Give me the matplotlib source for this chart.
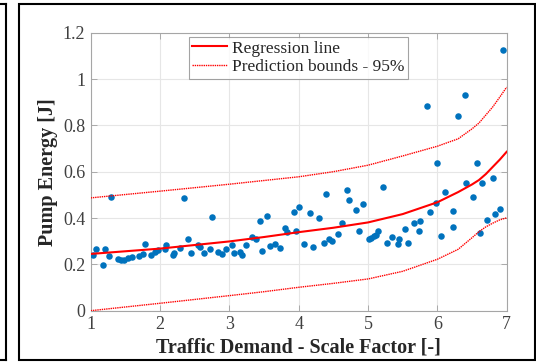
import matplotlib
matplotlib.use("Agg")
import matplotlib.pyplot as plt
from matplotlib.lines import Line2D
from matplotlib.patches import Rectangle

plt.rcParams['font.family'] = ['Liberation Serif', 'DejaVu Serif']

# measured points
scale = [1.04, 1.07, 1.18, 1.20, 1.26, 1.30, 1.40, 1.44, 1.48, 1.54, 1.60, 1.69, 1.76, 1.79,
         1.87, 1.93, 1.97, 2.07, 2.09, 2.18, 2.20, 2.29, 2.34, 2.40, 2.45, 2.55, 2.58, 2.63,
         2.72, 2.75, 2.84, 2.90, 2.95, 3.04, 3.07, 3.15, 3.18, 3.24, 3.33, 3.38, 3.44, 3.47,
         3.54, 3.58, 3.66, 3.73, 3.80, 3.83, 3.93, 3.96, 4.00, 4.07, 4.17, 4.21, 4.29, 4.36,
         4.40, 4.44, 4.48, 4.56, 4.63, 4.69, 4.73, 4.82, 4.87, 4.93, 5.01, 5.05, 5.09, 5.11,
         5.14, 5.22, 5.28, 5.35, 5.43, 5.45, 5.53, 5.57, 5.67, 5.74, 5.75, 5.85, 5.90, 5.98,
         6.00, 6.05, 6.11, 6.22, 6.23, 6.30, 6.40, 6.41, 6.51, 6.57, 6.62, 6.64, 6.72, 6.80,
         6.83, 6.90, 6.95]
energy = [0.240, 0.266, 0.196, 0.268, 0.237, 0.491, 0.223, 0.219, 0.219, 0.226, 0.230, 0.237,
          0.245, 0.288, 0.240, 0.255, 0.262, 0.268, 0.284, 0.240, 0.247, 0.271, 0.485, 0.309,
          0.250, 0.284, 0.276, 0.248, 0.265, 0.403, 0.255, 0.243, 0.266, 0.282, 0.248, 0.255,
          0.240, 0.282, 0.319, 0.311, 0.386, 0.259, 0.407, 0.279, 0.287, 0.271, 0.358, 0.341,
          0.427, 0.343, 0.449, 0.287, 0.420, 0.276, 0.400, 0.292, 0.504, 0.309, 0.299, 0.331,
          0.380, 0.520, 0.479, 0.435, 0.343, 0.459, 0.311, 0.315, 0.321, 0.327, 0.343, 0.534,
          0.294, 0.318, 0.289, 0.309, 0.351, 0.294, 0.377, 0.343, 0.387, 0.883, 0.425, 0.463,
          0.636, 0.322, 0.514, 0.363, 0.429, 0.842, 0.932, 0.550, 0.489, 0.636, 0.334, 0.552,
          0.391, 0.571, 0.417, 0.437, 1.125]

# regression curve and bounds
fit_x = [1.0, 2.0, 3.0, 3.5, 4.0, 4.5, 5.0, 5.5, 6.0, 6.3, 6.5, 6.6, 6.7, 6.8, 6.9, 7.0]
fit_y = [0.245, 0.268, 0.299, 0.318, 0.339, 0.358, 0.381, 0.417, 0.468, 0.512, 0.545,
         0.564, 0.590, 0.621, 0.652, 0.686]
upper_y = [0.487, 0.516, 0.546, 0.562, 0.578, 0.600, 0.628, 0.668, 0.710, 0.742, 0.785,
           0.810, 0.845, 0.880, 0.922, 0.965]
lower_y = [0.000, 0.032, 0.065, 0.082, 0.101, 0.118, 0.137, 0.170, 0.222, 0.265, 0.315,
           0.341, 0.362, 0.378, 0.392, 0.401]

xticks = [1, 2, 3, 4, 5, 6, 7]
yticks = [0, 0.2, 0.4, 0.6, 0.8, 1.0, 1.2]
ytick_labels = ['0', '0.2', '0.4', '0.6', '0.8', '1', '1.2']

fig = plt.figure(figsize=(5.36, 3.63), dpi=100)
ax = fig.add_axes([0.1692, 0.1441, 0.7761, 0.7658])

ax.scatter(scale, energy, s=22, color='#0072BD', zorder=3, linewidths=0)
ax.plot(fit_x, fit_y, color='red', lw=1.5, zorder=4)
ax.plot(fit_x, upper_y, color='red', lw=1.0, ls=(0, (1, 0.6)), zorder=4)
ax.plot(fit_x, lower_y, color='red', lw=1.0, ls=(0, (1, 0.6)), zorder=4)

ax.set_xlim(1, 7)
ax.set_ylim(0, 1.2)
ax.set_xticks(xticks)
ax.set_yticks(yticks)
ax.set_yticklabels(ytick_labels)
ax.grid(True, color='#e6e6e6', lw=0.8)
ax.set_axisbelow(True)
ax.tick_params(direction='in', length=4, width=0.6, color='#a0a0a0',
               top=True, right=True, labelsize=13, labelcolor='#404040', pad=4)
for sp in ax.spines.values():
    sp.set_color('#a6a6a6')
    sp.set_linewidth(0.8)

ax.set_xlabel('Traffic Demand - Scale Factor [-]', fontsize=14.5, fontweight='bold',
              color='#262626', labelpad=3)
ax.set_ylabel('Pump Energy [J]', fontsize=14.5, fontweight='bold', color='#262626',
              labelpad=3)

handles = [Line2D([], [], color='red', lw=1.5),
           Line2D([], [], color='red', lw=1.0, ls=(0, (1, 0.6)))]
leg = ax.legend(handles, ['Regression line', 'Prediction bounds - 95%'],
                loc='upper left', bbox_to_anchor=(0.236, 0.985), borderaxespad=0,
                fontsize=12.5, frameon=True, fancybox=False, handlelength=2.0,
                handletextpad=0.3, borderpad=0.2, labelspacing=0.15)
leg.get_frame().set_edgecolor('#8c8c8c')
leg.get_frame().set_linewidth(0.8)
for t in leg.get_texts():
    t.set_color('#262626')

# panel frame and neighbouring panel edge
fig.add_artist(Rectangle((19 / 536, 1 - 360 / 363), 516 / 536, 356 / 363,
                         transform=fig.transFigure, fill=False, lw=1.5, color='black'))
fig.add_artist(Line2D([6 / 536, 6 / 536], [1 - 360 / 363, 1 - 4 / 363],
                      transform=fig.transFigure, lw=1.5, color='black'))
fig.add_artist(Line2D([0, 6 / 536], [1 - 4 / 363, 1 - 4 / 363],
                      transform=fig.transFigure, lw=1.5, color='black'))
fig.add_artist(Line2D([0, 6 / 536], [1 - 360 / 363, 1 - 360 / 363],
                      transform=fig.transFigure, lw=1.5, color='black'))

fig.savefig('out.png', dpi=100)
